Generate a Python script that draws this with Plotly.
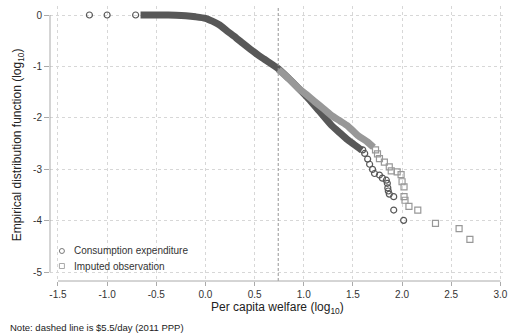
import math
import plotly.graph_objects as go

# ---------------- data ----------------
cons_band_x = [-0.66, -0.45, -0.30, -0.20, -0.10, 0.00, 0.07, 0.14, 0.22, 0.31, 0.38,
               0.46, 0.53, 0.60, 0.67, 0.744, 0.85, 0.95, 1.05, 1.15, 1.28, 1.35, 1.45, 1.55, 1.59]
cons_band_y = [0.00, 0.00, -0.005, -0.015, -0.035, -0.065, -0.12, -0.19, -0.31, -0.44, -0.55,
               -0.67, -0.77, -0.86, -0.95, -1.05, -1.24, -1.43, -1.63, -1.85, -2.14, -2.26, -2.43, -2.57, -2.63]

cons_pts_x = [-1.18, -1.00, -0.71, 1.60, 1.62, 1.65, 1.67, 1.70, 1.72, 1.77, 1.80, 1.84,
              1.85, 1.855, 1.86, 1.87, 1.915, 1.915, 2.016]
cons_pts_y = [0.0, 0.0, 0.0, -2.62, -2.69, -2.80, -2.90, -3.00, -3.08, -3.11, -3.17, -3.21,
              -3.27, -3.36, -3.42, -3.48, -3.53, -3.79, -3.99]

imp_band_x = [0.744, 0.85, 0.945, 1.03, 1.11, 1.20, 1.28, 1.37, 1.45, 1.55, 1.65, 1.71]
imp_band_y = [-1.06, -1.24, -1.42, -1.55, -1.68, -1.82, -1.95, -2.06, -2.16, -2.34, -2.47, -2.57]

imp_pts_x = [1.73, 1.75, 1.77, 1.82, 1.87, 1.89, 1.95, 1.99, 2.00, 2.02, 2.02, 2.03, 2.07,
             2.16, 2.34, 2.58, 2.69]
imp_pts_y = [-2.62, -2.70, -2.79, -2.86, -2.95, -3.03, -3.05, -3.10, -3.24, -3.34, -3.53,
             -3.60, -3.72, -3.79, -4.05, -4.15, -4.36]

poverty_line = 5.5  # $/day, 2011 PPP

x_tickvals = [-1.5, -1.0, -0.5, 0.0, 0.5, 1.0, 1.5, 2.0, 2.5, 3.0]
x_ticktext = ["-1.5", "-1.0", "-0.5", "0.0", "0.5", "1.0", "1.5", "2.0", "2.5", "3.0"]
y_tickvals = [0, -1, -2, -3, -4, -5]
y_ticktext = ["0", "-1", "-2", "-3", "-4", "-5"]

legend_labels = ["Consumption expenditure", "Imputed observation"]

# ---------------- styling ----------------
DARK = "rgb(88,88,88)"
LIGHT = "rgb(152,152,152)"
FONT = "Liberation Sans, Arial, sans-serif"
XR = [-1.581, 3.047]
YR = [-5.169, 0.175]

fig = go.Figure()

fig.add_trace(go.Scatter(x=cons_band_x, y=cons_band_y, mode="lines",
                         line=dict(color=DARK, width=7, shape="spline", smoothing=0.6),
                         showlegend=False, hoverinfo="skip"))
fig.add_trace(go.Scatter(x=cons_pts_x, y=cons_pts_y, mode="markers",
                         marker=dict(symbol="circle-open", size=6, color=DARK,
                                     line=dict(width=1.2, color=DARK)),
                         name=legend_labels[0], showlegend=False))
fig.add_trace(go.Scatter(x=imp_band_x, y=imp_band_y, mode="lines",
                         line=dict(color=LIGHT, width=7, shape="spline", smoothing=0.6),
                         showlegend=False, hoverinfo="skip"))
fig.add_trace(go.Scatter(x=imp_pts_x, y=imp_pts_y, mode="markers",
                         marker=dict(symbol="square-open", size=6, color=LIGHT,
                                     line=dict(width=1.2, color=LIGHT)),
                         name=legend_labels[1], showlegend=False))


def px_x(v):
    return (v - XR[0]) / (XR[1] - XR[0])


def px_y(v):
    return (v - YR[0]) / (YR[1] - YR[0])


shapes = [
    # dashed poverty line
    dict(type="line", xref="x", yref="paper", x0=math.log10(poverty_line), x1=math.log10(poverty_line),
         y0=0, y1=1, line=dict(color="rgb(150,150,150)", width=1, dash="3px,2px")),
    # axis lines spanning first to last tick (Stata style)
    dict(type="line", xref="paper", yref="paper", x0=px_x(x_tickvals[0]), x1=px_x(x_tickvals[-1]),
         y0=0, y1=0, line=dict(color="rgb(170,170,170)", width=1)),
    dict(type="line", xref="paper", yref="paper", x0=0, x1=0,
         y0=px_y(y_tickvals[-1]), y1=px_y(y_tickvals[0]), line=dict(color="rgb(170,170,170)", width=1)),
]

# manual legend glyphs
leg_x = 0.0262
leg_y = [0.1091, 0.0545]
shapes.append(dict(type="circle", xref="paper", yref="paper", xsizemode="pixel", ysizemode="pixel",
                   xanchor=leg_x, yanchor=leg_y[0], x0=-2.5, x1=2.5, y0=-2.5, y1=2.5,
                   line=dict(color="rgb(120,120,120)", width=1)))
shapes.append(dict(type="rect", xref="paper", yref="paper", xsizemode="pixel", ysizemode="pixel",
                   xanchor=leg_x, yanchor=leg_y[1], x0=-2.5, x1=2.5, y0=-2.5, y1=2.5,
                   line=dict(color="rgb(170,170,170)", width=1)))

annotations = [
    dict(text=legend_labels[0], xref="paper", yref="paper", x=0.048, y=leg_y[0],
         xanchor="left", yanchor="middle", showarrow=False,
         font=dict(family=FONT, size=10, color="#333")),
    dict(text=legend_labels[1], xref="paper", yref="paper", x=0.048, y=leg_y[1],
         xanchor="left", yanchor="middle", showarrow=False,
         font=dict(family=FONT, size=10, color="#333")),
    dict(text="Per capita welfare (log<sub>10</sub>)", xref="paper", yref="paper",
         x=0.5, y=-0.098, xanchor="center", yanchor="middle", showarrow=False,
         font=dict(family=FONT, size=12, color="#222")),
    dict(text="Empirical distribution function (log<sub>10</sub>)", xref="paper", yref="paper",
         x=-0.0699, y=0.4945, xanchor="center", yanchor="middle", textangle=-90, showarrow=False,
         font=dict(family=FONT, size=12, color="#222")),
    dict(text="Note: dashed line is $5.5/day (2011 PPP)", xref="paper", yref="paper",
         x=-0.0917, y=-0.170, xanchor="left", yanchor="middle", showarrow=False,
         font=dict(family=FONT, size=9.5, color="#222")),
]

fig.update_layout(
    width=513, height=335, autosize=False,
    margin=dict(l=50, r=5, t=6, b=54),
    paper_bgcolor="white", plot_bgcolor="white",
    font=dict(family=FONT, size=10, color="#333"),
    showlegend=False,
    shapes=shapes, annotations=annotations,
    xaxis=dict(range=XR, tickvals=x_tickvals, ticktext=x_ticktext,
               showgrid=True, gridcolor="rgb(215,215,215)", gridwidth=1, griddash="dot",
               zeroline=False, showline=False, ticks="outside", ticklen=4,
               tickcolor="rgb(170,170,170)", tickfont=dict(family=FONT, size=10, color="#333")),
    yaxis=dict(range=YR, tickvals=y_tickvals, ticktext=y_ticktext,
               showgrid=True, gridcolor="rgb(215,215,215)", gridwidth=1, griddash="dot",
               zeroline=False, showline=False, ticks="outside", ticklen=5,
               tickcolor="rgb(170,170,170)", tickfont=dict(family=FONT, size=10, color="#333")),
)

fig.write_html("out.html")
